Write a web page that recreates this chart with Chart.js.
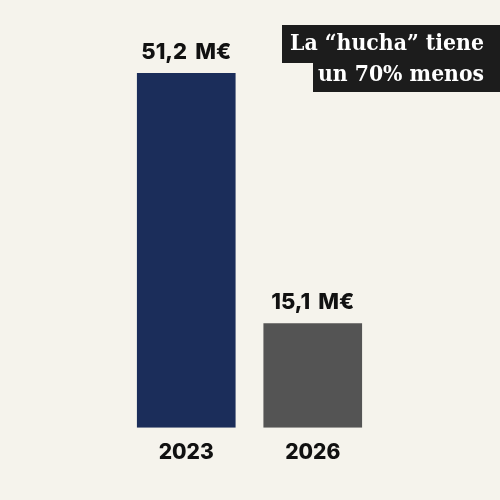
<!DOCTYPE html>
<html>
<head>
<meta charset="utf-8">
<script src="https://cdn.jsdelivr.net/npm/chart.js@4"></script>
<style>
  html, body { margin: 0; padding: 0; background: #f5f3ec; }
  #wrap { width: 500px; height: 500px; }
</style>
</head>
<body>
<div id="wrap"><canvas id="mychart"></canvas></div>
<script>
// data
const years = ["2023", "2026"];
const amounts = [51.2, 15.1];
const barColors = ["#1b2d5a", "#545454"];
const titleLines = ["La \u201chucha\u201d tiene", "un 70% menos"];

// value labels above the bars
const valueLabels = {
  id: "valueLabels",
  afterDatasetsDraw(chart) {
    const ctx = chart.ctx;
    const meta = chart.getDatasetMeta(0);
    ctx.save();
    ctx.font = "800 22px Inter";
    ctx.fillStyle = "#111";
    ctx.textAlign = "center";
    ctx.textBaseline = "alphabetic";
    meta.data.forEach((bar, i) => {
      const txt = amounts[i].toLocaleString("es-ES") + "\u2009 M\u20ac";
      ctx.fillText(txt, bar.x, bar.y - 14);
    });
    ctx.restore();
  }
};

// black title boxes, top right
const titleBox = {
  id: "titleBox",
  afterDraw(chart) {
    const ctx = chart.ctx;
    ctx.save();
    ctx.fillStyle = "#1c1c1c";
    ctx.fillRect(282, 25, 218, 38);
    ctx.fillRect(313, 62, 187, 30);
    ctx.fillStyle = "#fff";
    ctx.textAlign = "right";
    ctx.font = "700 22px 'DejaVu Serif'";
    ctx.fillText(titleLines[0], 484, 50, 194);
    ctx.fillText(titleLines[1], 484, 81, 166);
    ctx.restore();
  }
};

const ctx = document.getElementById("mychart").getContext("2d");

const myChart = new Chart(ctx, {
  type: "bar",
  data: {
    labels: years,
    datasets: [
      {
        data: amounts,
        backgroundColor: barColors,
        borderWidth: 0,
        categoryPercentage: 1,
        barPercentage: 0.78,
      },
    ],
  },
  options: {
    responsive: true,
    maintainAspectRatio: false,
    animation: false,
    layout: {
      padding: { left: 123, right: 124, top: 12, bottom: 23 },
    },
    scales: {
      x: {
        grid: { display: false, drawTicks: false },
        border: { display: false },
        ticks: {
          color: "#111",
          padding: 12,
          font: { family: "Inter", size: 21, weight: "800" },
        },
      },
      y: {
        display: false,
        beginAtZero: true,
        max: 60,
      },
    },
    plugins: {
      legend: { display: false },
      tooltip: { enabled: false },
    },
  },
  plugins: [valueLabels, titleBox],
});
</script>
</body>
</html>
